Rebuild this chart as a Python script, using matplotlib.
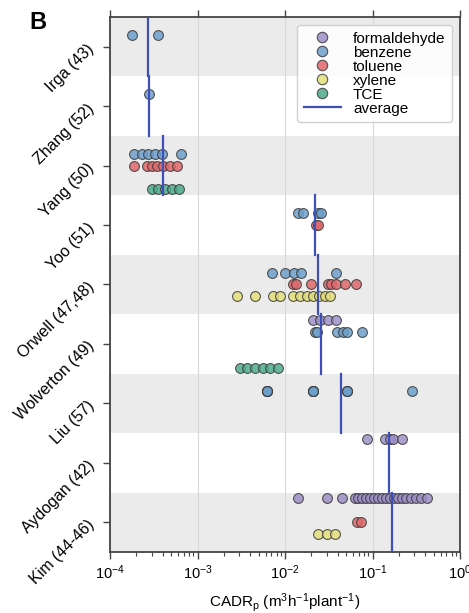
import matplotlib
matplotlib.use("Agg")
import matplotlib.pyplot as plt
from matplotlib.lines import Line2D
import numpy as np

plt.rcParams['font.family'] = ['Liberation Sans', 'DejaVu Sans']
plt.rcParams['mathtext.fontset'] = 'custom'
plt.rcParams['mathtext.rm'] = 'Liberation Sans'
plt.rcParams['mathtext.it'] = 'Liberation Sans:italic'
plt.rcParams['mathtext.default'] = 'regular'

studies = ["Irga (43)", "Zhang (52)", "Yang (50)", "Yoo (51)", "Orwell (47,48)",
           "Wolverton (49)", "Liu (57)", "Aydogan (42)", "Kim (44-46)"]
compounds = ["formaldehyde", "benzene", "toluene", "xylene", "TCE"]
compound_colors = ["#9c8fc6", "#6d9fca", "#e0686b", "#e3df7a", "#4dab8a"]
compound_offsets = [-0.4, -0.2, 0.0, 0.2, 0.4]

# CADR per plant, m3/h/plant
irga_benzene = [1.8e-4, 3.5e-4]
zhang_benzene = [2.8e-4]
yang_benzene = [1.9e-4, 2.3e-4, 2.7e-4, 3.3e-4, 3.9e-4, 6.5e-4]
yang_toluene = [1.9e-4, 2.65e-4, 3.0e-4, 3.45e-4, 4.0e-4, 4.85e-4, 5.8e-4]
yang_tce = [3.0e-4, 3.55e-4, 4.25e-4, 5.1e-4, 6.1e-4]
yoo_benzene = [0.0141, 0.0161, 0.0238, 0.0258]
yoo_toluene = [0.0228, 0.0236]
orwell_benzene = [0.0071, 0.0100, 0.0127, 0.0152, 0.0383]
orwell_toluene = [0.0123, 0.0134, 0.0198, 0.0310, 0.0336, 0.0383, 0.0485, 0.0648]
orwell_xylene = [0.00283, 0.00454, 0.00729, 0.00877, 0.0123, 0.0148, 0.0178,
                 0.0209, 0.0245, 0.0287, 0.0327]
wolverton_formaldehyde = [0.0209, 0.0251, 0.0310, 0.0383]
wolverton_benzene = [0.0220, 0.0232, 0.0393, 0.0460, 0.0512, 0.0759]
wolverton_tce = [0.00306, 0.00368, 0.00454, 0.00561, 0.00674, 0.00832]
liu_benzene = [0.0062, 0.0062, 0.0062, 0.0062, 0.021, 0.021, 0.021, 0.021,
               0.051, 0.051, 0.051, 0.28]
aydogan_formaldehyde = [0.0865, 0.139, 0.158, 0.171, 0.217]
kim_formaldehyde = [0.0141, 0.0302, 0.0448, 0.0631, 0.0683, 0.0759, 0.0843,
                    0.0936, 0.104, 0.116, 0.128, 0.143, 0.158, 0.176, 0.196,
                    0.217, 0.241, 0.275, 0.314, 0.358, 0.420]
kim_toluene = [0.0665, 0.0739]
kim_xylene = [0.0238, 0.0302, 0.0373]

study_average = [2.7e-4, 2.8e-4, 4.0e-4, 0.022, 0.0238, 0.0258, 0.0437, 0.155, 0.167]

records = [
    (0, "benzene", irga_benzene),
    (1, "benzene", zhang_benzene),
    (2, "benzene", yang_benzene),
    (2, "toluene", yang_toluene),
    (2, "TCE", yang_tce),
    (3, "benzene", yoo_benzene),
    (3, "toluene", yoo_toluene),
    (4, "benzene", orwell_benzene),
    (4, "toluene", orwell_toluene),
    (4, "xylene", orwell_xylene),
    (5, "formaldehyde", wolverton_formaldehyde),
    (5, "benzene", wolverton_benzene),
    (5, "TCE", wolverton_tce),
    (6, "benzene", liu_benzene),
    (7, "formaldehyde", aydogan_formaldehyde),
    (8, "formaldehyde", kim_formaldehyde),
    (8, "toluene", kim_toluene),
    (8, "xylene", kim_xylene),
]

fig = plt.figure(figsize=(4.69, 6.13), dpi=100)
ax = fig.add_axes([110 / 469, 61 / 613, 350 / 469, 535 / 613])

# alternating background bands
for i in range(len(studies)):
    if i % 2 == 0:
        ax.axhspan(i - 0.5, i + 0.5, color="#ebebeb", lw=0, zorder=0)

ax.set_xscale("log")
ax.set_xlim(1e-4, 1)
ax.set_ylim(len(studies) - 0.5, -0.5)
ax.grid(axis="x", which="major", color="#d8d8d8", lw=0.8, zorder=1)
ax.set_axisbelow(True)

for study, comp, vals in records:
    k = compounds.index(comp)
    y = np.full(len(vals), study + compound_offsets[k])
    ax.scatter(vals, y, s=50, facecolor=compound_colors[k], edgecolor="#3a3a3a",
               linewidth=0.8, alpha=0.85, zorder=3)

for i, avg in enumerate(study_average):
    ax.plot([avg, avg], [i - 0.5, i + 0.5], color="#3f4fb8", lw=1.6, zorder=4)

ax.set_yticks(range(len(studies)))
ax.set_yticklabels(studies, rotation=45, ha="right", va="center",
                   rotation_mode="anchor", fontsize=11.5)
ax.tick_params(axis="y", length=5, width=1, color="#444444", pad=8)
ax.tick_params(axis="x", which="major", labelsize=10.5, length=5, width=1,
               color="#444444", top=True, direction="out")
ax.tick_params(axis="x", which="minor", length=3, width=0.8, color="#444444")
for side in ["left", "right", "top", "bottom"]:
    ax.spines[side].set_color("#444444")
    ax.spines[side].set_linewidth(1.3)

ax.set_xlabel(r"CADR$_p$ (m$^3$h$^{-1}$plant$^{-1}$)", fontsize=11, labelpad=6)

handles = [Line2D([], [], ls="none", marker="o", markersize=7.5,
                  markerfacecolor=c, markeredgecolor="#3a3a3a", markeredgewidth=0.8,
                  alpha=0.85) for c in compound_colors]
handles.append(Line2D([], [], color="#3f4fb8", lw=1.6))
leg = ax.legend(handles, compounds + ["average"], loc="upper right", fontsize=11,
                labelspacing=0.0, handlelength=2.4, handletextpad=0.8,
                borderaxespad=0.5, borderpad=0.45, framealpha=0.9)
leg.get_frame().set_edgecolor("#cccccc")

fig.text(0.062, 0.982, "B", fontsize=17, fontweight="bold", va="top", ha="left")

fig.savefig("out.png", dpi=100)
